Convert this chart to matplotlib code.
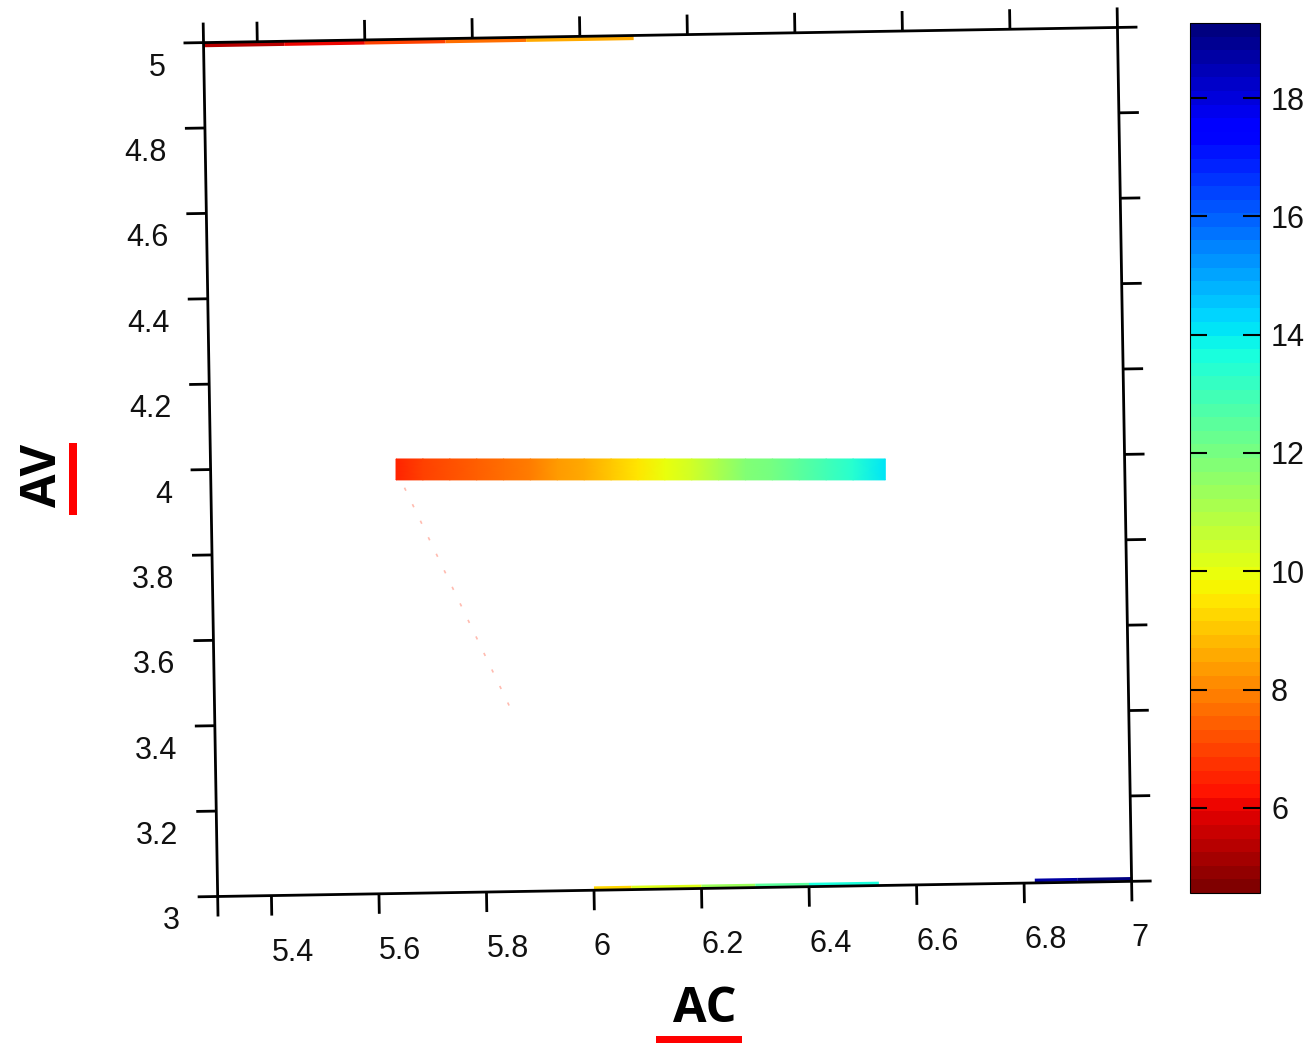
import numpy as np
import matplotlib
matplotlib.use("Agg")
import matplotlib.pyplot as plt
from matplotlib.transforms import Affine2D
from matplotlib.collections import LineCollection
from matplotlib.colors import Normalize
from matplotlib.patches import Rectangle

# axis ranges and ticks
ac_lim = (5.3, 7.0)
av_lim = (3.0, 5.0)
ac_ticks = [5.3, 5.4, 5.6, 5.8, 6.0, 6.2, 6.4, 6.6, 6.8, 7.0]
ac_labels = ["", "5.4", "5.6", "5.8", "6", "6.2", "6.4", "6.6", "6.8", "7"]
av_ticks = [3.0, 3.2, 3.4, 3.6, 3.8, 4.0, 4.2, 4.4, 4.6, 4.8, 5.0]
av_labels = ["3", "3.2", "3.4", "3.6", "3.8", "4", "4.2", "4.4", "4.6", "4.8", "5"]
cbar_ticks = [6, 8, 10, 12, 14, 16, 18]
clim = (4.56, 19.27)

# visible strip of the surface around AV = 4
band_ac = [5.645, 5.695, 5.745, 5.795, 5.845, 5.895, 5.945, 5.995, 6.045, 6.095,
           6.145, 6.195, 6.245, 6.295, 6.345, 6.395, 6.445, 6.495, 6.555]
band_val = [6.6, 6.9, 7.2, 7.4, 7.7, 8.0, 8.3, 8.6, 9.1, 9.6,
            10.0, 10.5, 11.1, 11.7, 12.1, 12.5, 13.0, 13.5, 14.2]
band_av = [3.958, 4.007]

# coloured rims seen along the top and bottom edges
top_ac = [5.3, 5.45, 5.6, 5.75, 5.9, 6.1]
top_val = [5.0, 5.8, 6.5, 7.3, 8.2, 9.0]
bot_ac = [6.0, 6.07, 6.2, 6.3, 6.4, 6.53]
bot_val = [9.0, 9.6, 10.8, 11.8, 13.0, 14.2]
bot2_ac = [6.82, 6.9, 7.0]
bot2_val = [18.6, 18.9, 19.2]

# faint trace below the strip
diag_ac = [5.66, 5.85]
diag_av = [3.95, 3.43]

cmap = plt.get_cmap("jet_r", 64)
norm = Normalize(*clim)

fig = plt.figure(figsize=(13.15, 10.44), dpi=100)
fig.patch.set_facecolor("white")
ax = fig.add_axes([0.1601, 0.1485, 0.6951, 0.818])
ax.set_xlim(*ac_lim)
ax.set_ylim(*av_lim)
ax.axis("off")

# slight rotation of the box (3D view almost from the top)
cx, cy = ax.transAxes.transform((0.5, 0.5))
tr = ax.transData + Affine2D().rotate_deg_around(cx, cy, 0.95)

# strip (it sits level in the view)
X, Y = np.meshgrid(band_ac, band_av)
C = np.vstack([band_val, band_val])
ax.pcolormesh(X, Y, C, cmap=cmap, norm=norm, shading="gouraud",
              clip_on=False, zorder=2)


def rim(xs, y, vals, lw):
    pts = np.column_stack([xs, np.full(len(xs), y)])
    segs = np.stack([pts[:-1], pts[1:]], axis=1)
    mids = 0.5 * (np.array(vals[:-1]) + np.array(vals[1:]))
    lc = LineCollection(segs, cmap=cmap, norm=norm, linewidths=lw,
                        transform=tr, clip_on=False, zorder=3)
    lc.set_array(mids)
    ax.add_collection(lc)


rim(top_ac, 4.994, top_val, 3.0)
rim(bot_ac, 3.005, bot_val, 2.5)
rim(bot2_ac, 3.006, bot2_val, 2.5)

ax.plot(diag_ac, diag_av, color="#ff6a50", lw=1.2, ls=(0, (2, 9)),
        alpha=0.45, transform=tr, clip_on=False, zorder=2)

# box edges
x0, x1 = ac_lim
y0, y1 = av_lim
kw = dict(color="black", lw=2.0, transform=tr, clip_on=False, zorder=4,
          solid_capstyle="butt")
ax.plot([x0, x1, x1, x0, x0], [y0, y0, y1, y1, y0], **kw)

# outward ticks (~20 px)
tx = 20 / 537.6
ty = 20 / 427.0
for x in ac_ticks:
    ax.plot([x, x], [y1, y1 + ty], **kw)
    ax.plot([x, x], [y0, y0 - ty], **kw)
for y in av_ticks:
    ax.plot([x0 - tx, x0], [y, y], **kw)
    ax.plot([x1, x1 + tx], [y, y], **kw)

lab = dict(fontsize=22, family=["Liberation Sans", "DejaVu Sans"],
           color="#111111", annotation_clip=False)
for x, s in zip(ac_ticks, ac_labels):
    if s:
        ax.annotate(s, xy=(x, y0), xycoords=tr, xytext=(0, -42),
                    textcoords="offset pixels", ha="left", va="top", **lab)
for y, s in zip(av_ticks, av_labels):
    ax.annotate(s, xy=(x0, y), xycoords=tr, xytext=(-38, -25),
                textcoords="offset pixels", ha="right", va="center", **lab)

# axis titles
fig.text(0.536, 0.033, "AC", fontsize=35, fontweight="bold",
         family=["Open Sans", "DejaVu Sans"], ha="center", va="center")
fig.text(0.033, 0.545, "AV", fontsize=35, fontweight="bold", rotation=90,
         family=["Open Sans", "DejaVu Sans"], ha="center", va="center")
fig.add_artist(Rectangle((656 / 1315, 1 - 1043 / 1044), 86 / 1315, 7 / 1044,
                         transform=fig.transFigure, color="red", lw=0))
fig.add_artist(Rectangle((69 / 1315, 1 - 515 / 1044), 8 / 1315, 72 / 1044,
                         transform=fig.transFigure, color="red", lw=0))

# colorbar
cax = fig.add_axes([1190 / 1315, 1 - 893 / 1044, 70 / 1315, 870 / 1044])
sm = plt.cm.ScalarMappable(norm=norm, cmap=cmap)
cb = fig.colorbar(sm, cax=cax, ticks=cbar_ticks)
cb.outline.set_linewidth(0.8)
cax.tick_params(direction="in", left=True, right=True, length=12, width=1.5,
                labelsize=22, pad=8)
for t in cax.get_yticklabels():
    t.set_family(["Liberation Sans", "DejaVu Sans"])
    t.set_color("#111111")

fig.savefig("out.png", dpi=100, facecolor="white")
